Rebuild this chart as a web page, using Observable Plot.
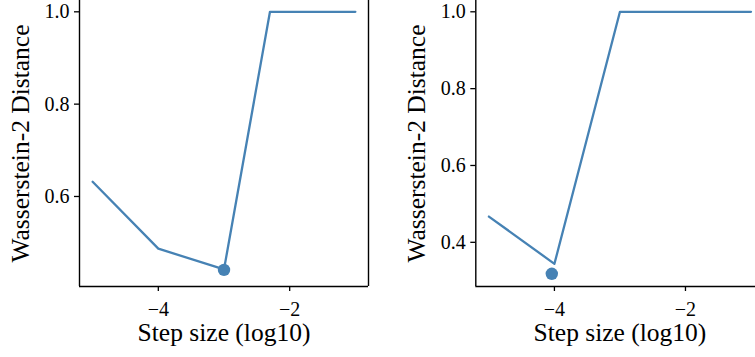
<!DOCTYPE html>
<html>
<head>
<meta charset="utf-8">
<script src="https://cdn.jsdelivr.net/npm/d3@7"></script>
<script src="https://cdn.jsdelivr.net/npm/@observablehq/plot@0.6"></script>
<style>
  body { margin: 0; background: #fff; }
  #wrap { position: relative; width: 755px; height: 357px; overflow: hidden; background: #fff; }
  #wrap svg { position: absolute; top: 0; overflow: visible; }
  #wrap svg, #wrap svg g, #wrap svg text { font-family: "Liberation Serif", "Times New Roman", serif !important; }
</style>
</head>
<body>
<div id="wrap"></div>
<script>
// log10 step sizes
const steps = [-5, -4, -3, -2.3, -2, -1.3, -1];
// Wasserstein-2 distances, left panel
const leftValues = [0.632, 0.487, 0.442, 1.0, 1.0, 1.0, 1.0];
// Wasserstein-2 distances, right panel
const rightValues = [0.467, 0.344, 1.0, 1.0, 1.0, 1.0, 1.0];
// highlighted best points
const leftBest = [{x: -3, y: 0.441}];
const rightBest = [{x: -4.04, y: 0.318}];
const xTicks = [-4, -2];
const leftYTicks = [0.6, 0.8, 1.0];
const rightYTicks = [0.4, 0.6, 0.8, 1.0];
const xLabel = "Step size (log10)";
const yLabel = "Wasserstein-2 Distance";

const color = "#4682b4";
const font = "Liberation Serif";

function panel({values, best, yTicks, yDomain, width, marginLeft, marginRight, left}) {
  const data = steps.map((x, i) => ({x, y: values[i]}));
  const xDomain = [-5.2, -0.8];
  const chart = Plot.plot({
    width, height: 357,
    marginLeft, marginRight, marginTop: 0, marginBottom: 71,
    style: {fontFamily: font, color: "#000", background: "transparent", overflow: "visible"},
    x: {domain: xDomain},
    y: {domain: yDomain},
    marks: [
      Plot.ruleX(xDomain, {stroke: "#000", strokeWidth: 1.4}),
      Plot.ruleY([yDomain[0]], {stroke: "#000", strokeWidth: 1.4}),
      Plot.axisX({ticks: xTicks, tickSize: 5, tickPadding: 9.8, fontSize: 20, fontFamily: font, label: null, tickFormat: d3.format("d"), strokeWidth: 1.3}),
      Plot.axisY({ticks: yTicks, tickSize: 5, tickPadding: 5, fontSize: 20, fontFamily: font, label: null, tickFormat: d3.format(".1f"), strokeWidth: 1.3}),
      Plot.line(data, {x: "x", y: "y", stroke: color, strokeWidth: 2.3}),
      Plot.dot(best, {x: "x", y: "y", r: 6.2, fill: color, stroke: null}),
      Plot.text([xLabel], {text: d => d, frameAnchor: "bottom", dy: 54, fontSize: 25.5, fontFamily: font, fill: "#000"}),
      Plot.text([yLabel], {text: d => d, frameAnchor: "left", textAnchor: "middle", rotate: -90, dx: -59, fontSize: 25.5, fontFamily: font, fill: "#000"})
    ]
  });
  chart.style.left = left + "px";
  document.getElementById("wrap").appendChild(chart);
}

panel({values: leftValues, best: leftBest, yTicks: leftYTicks, yDomain: [0.405, 1.0245],
       width: 378, marginLeft: 79, marginRight: 10, left: 0});
panel({values: rightValues, best: rightBest, yTicks: rightYTicks, yDomain: [0.285, 1.0294],
       width: 390, marginLeft: 95.3, marginRight: 6.4, left: 380});
</script>
</body>
</html>
